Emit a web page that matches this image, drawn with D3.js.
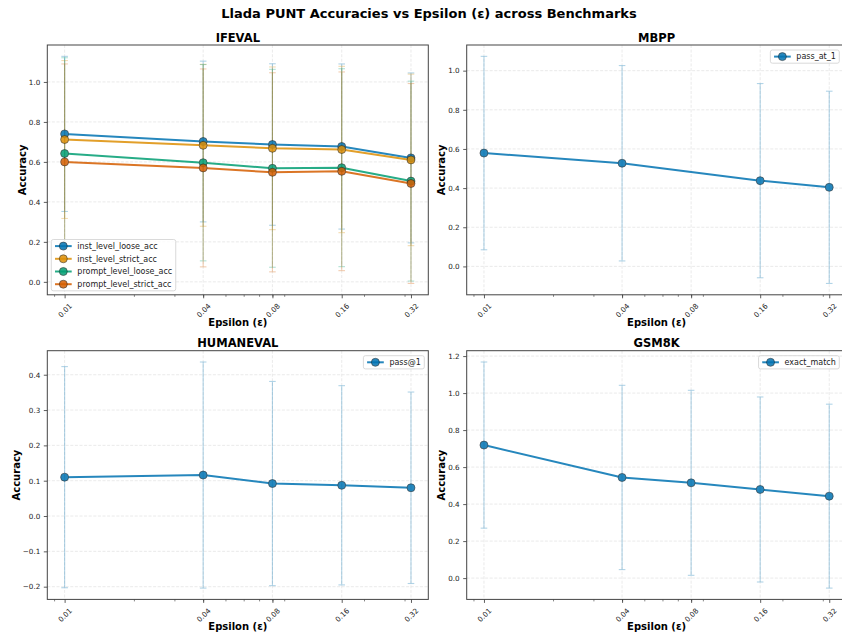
<!DOCTYPE html>
<html>
<head>
<meta charset="utf-8">
<script src="https://cdn.jsdelivr.net/npm/d3@7"></script>
<style>
  body { margin: 0; background: #fff; }
  svg { display: block; }
  text { font-family: "DejaVu Sans", "Liberation Sans", sans-serif; }
</style>
</head>
<body>
<svg id="chart" width="842" height="639"></svg>
<script>
// ---- data -------------------------------------------------------------
const epsilons = [0.01, 0.04, 0.08, 0.16, 0.32];
const epsilonTickLabels = ["0.01", "0.04", "0.08", "0.16", "0.32"];

// IFEVAL (four metrics, mean ± std)
const ifevalInstLooseAcc   = [0.740, 0.702, 0.687, 0.677, 0.620];
const ifevalInstLooseErr   = [0.388, 0.402, 0.404, 0.413, 0.425];
const ifevalInstStrictAcc  = [0.712, 0.683, 0.668, 0.662, 0.610];
const ifevalInstStrictErr  = [0.395, 0.405, 0.407, 0.416, 0.429];
const ifevalPromptLooseAcc = [0.642, 0.596, 0.568, 0.571, 0.504];
const ifevalPromptLooseErr = [0.479, 0.491, 0.495, 0.495, 0.500];
const ifevalPromptStrictAcc = [0.600, 0.570, 0.548, 0.553, 0.492];
const ifevalPromptStrictErr = [0.490, 0.495, 0.498, 0.497, 0.500];

// MBPP (no run at 0.08)
const mbppEpsilons = [0.01, 0.04, 0.16, 0.32];
const mbppPassAt1  = [0.579, 0.527, 0.438, 0.404];
const mbppErr      = [0.494, 0.499, 0.496, 0.491];

// HUMANEVAL
const humanevalPass1 = [0.110, 0.116, 0.092, 0.087, 0.080];
const humanevalErr   = [0.313, 0.320, 0.289, 0.282, 0.271];

// GSM8K
const gsm8kExactMatch = [0.719, 0.544, 0.515, 0.479, 0.443];
const gsm8kErr        = [0.449, 0.498, 0.500, 0.500, 0.497];

// y tick values per panel
const ifevalYTicks    = [0.0, 0.2, 0.4, 0.6, 0.8, 1.0];
const mbppYTicks      = [0.0, 0.2, 0.4, 0.6, 0.8, 1.0];
const humanevalYTicks = [-0.2, -0.1, 0.0, 0.1, 0.2, 0.3, 0.4];
const gsm8kYTicks     = [0.0, 0.2, 0.4, 0.6, 0.8, 1.0, 1.2];

// ---- style ------------------------------------------------------------
const palette = ["#0173b2", "#de8f05", "#029e73", "#d55e00"];
const TICK_FS = 7.2, LEGEND_FS = 8, LABEL_FS = 10, TITLE_FS = 11.5, SUPTITLE_FS = 13;

const panels = [
  { title: "IFEVAL", box: [47.3, 428.3, 45, 294.8], yTicks: ifevalYTicks, legendLoc: "lower left",
    series: [
      { name: "inst_level_loose_acc",   color: palette[0], x: epsilons, y: ifevalInstLooseAcc,   e: ifevalInstLooseErr },
      { name: "inst_level_strict_acc",  color: palette[1], x: epsilons, y: ifevalInstStrictAcc,  e: ifevalInstStrictErr },
      { name: "prompt_level_loose_acc", color: palette[2], x: epsilons, y: ifevalPromptLooseAcc, e: ifevalPromptLooseErr },
      { name: "prompt_level_strict_acc",color: palette[3], x: epsilons, y: ifevalPromptStrictAcc,e: ifevalPromptStrictErr }
    ] },
  { title: "MBPP", box: [466.7, 846.5, 45, 294.8], yTicks: mbppYTicks, legendLoc: "upper right",
    series: [ { name: "pass_at_1", color: palette[0], x: mbppEpsilons, y: mbppPassAt1, e: mbppErr } ] },
  { title: "HUMANEVAL", box: [47.3, 428.3, 350.7, 599.4], yTicks: humanevalYTicks, legendLoc: "upper right",
    series: [ { name: "pass@1", color: palette[0], x: epsilons, y: humanevalPass1, e: humanevalErr } ] },
  { title: "GSM8K", box: [466.7, 846.5, 350.7, 599.4], yTicks: gsm8kYTicks, legendLoc: "upper right",
    series: [ { name: "exact_match", color: palette[0], x: epsilons, y: gsm8kExactMatch, e: gsm8kErr } ] }
];

const svg = d3.select("#chart");
const fmt = d3.format(".1f");

svg.append("text")
  .attr("x", 429).attr("y", 17.5)
  .attr("text-anchor", "middle")
  .attr("font-size", SUPTITLE_FS).attr("font-weight", "bold")
  .attr("fill", "#000")
  .text("Llada PUNT Accuracies vs Epsilon (ε) across Benchmarks");

panels.forEach((p, pi) => {
  const [L, R, T, B] = p.box;
  const g = svg.append("g");

  // log x scale with 5% margins in log space
  const lo = Math.log10(d3.min(epsilons)), hi = Math.log10(d3.max(epsilons));
  const mx = (hi - lo) * 0.05;
  const x = d3.scaleLog().domain([10 ** (lo - mx), 10 ** (hi + mx)]).range([L, R]);

  // linear y scale with 5% margins around the error-bar extent
  const yMin = d3.min(p.series, s => d3.min(s.y, (v, i) => v - s.e[i]));
  const yMax = d3.max(p.series, s => d3.max(s.y, (v, i) => v + s.e[i]));
  const my = (yMax - yMin) * 0.05;
  const y = d3.scaleLinear().domain([yMin - my, yMax + my]).range([B, T]);

  const clipId = "clip" + pi;
  svg.append("clipPath").attr("id", clipId)
    .append("rect").attr("x", L).attr("y", T).attr("width", R - L).attr("height", B - T);

  // grid
  const grid = g.append("g").attr("stroke", "#c8c8c8").attr("stroke-width", 0.8)
    .attr("stroke-dasharray", "3,1.6").attr("opacity", 0.45);
  grid.selectAll("line.h").data(p.yTicks).join("line")
    .attr("x1", L).attr("x2", R).attr("y1", d => y(d)).attr("y2", d => y(d));
  grid.selectAll("line.v").data(epsilons).join("line")
    .attr("y1", T).attr("y2", B).attr("x1", d => x(d)).attr("x2", d => x(d));

  // y axis
  const yAxis = g.append("g").attr("transform", `translate(${L},0)`)
    .call(d3.axisLeft(y).tickValues(p.yTicks).tickFormat(fmt).tickSize(3.5).tickPadding(3.5));
  yAxis.select(".domain").remove();
  yAxis.selectAll("line").attr("stroke", "#333").attr("stroke-width", 0.8);
  yAxis.selectAll("text").attr("font-size", TICK_FS).attr("fill", "#222")
    .attr("font-family", "DejaVu Sans");
  let maxW = 0;
  yAxis.selectAll("text").each(function () { maxW = Math.max(maxW, this.getComputedTextLength()); });

  // x axis: minor log ticks
  const [d0, d1] = x.domain();
  const minor = [];
  for (let k = -3; k <= 0; k++) for (let m = 2; m <= 9; m++) {
    const v = m * 10 ** k;
    if (v >= d0 && v <= d1) minor.push(v);
  }
  const xMinor = g.append("g").attr("transform", `translate(0,${B})`)
    .call(d3.axisBottom(x).tickValues(minor).tickFormat("").tickSize(2));
  xMinor.select(".domain").remove();
  xMinor.selectAll("line").attr("stroke", "#333").attr("stroke-width", 0.6);

  // x axis: major ticks at the epsilon values, labels rotated 45°
  const xAxis = g.append("g").attr("transform", `translate(0,${B})`)
    .call(d3.axisBottom(x).tickValues(epsilons)
      .tickFormat((d, i) => epsilonTickLabels[i]).tickSize(3.5));
  xAxis.select(".domain").remove();
  xAxis.selectAll("line").attr("stroke", "#333").attr("stroke-width", 0.8);
  xAxis.selectAll("text")
    .attr("font-size", TICK_FS).attr("fill", "#222").attr("font-family", "DejaVu Sans")
    .attr("text-anchor", "middle").attr("y", 0).attr("dy", "0.35em")
    .attr("transform", function () {
      const w = this.getComputedTextLength();
      const h = (w + TICK_FS * 1.17) * Math.SQRT1_2;
      return `translate(0,${7 + h / 2}) rotate(-45)`;
    });

  // error bars
  const eb = g.append("g").attr("clip-path", `url(#${clipId})`);
  p.series.forEach(s => {
    const pts = s.x.map((xv, i) => ({ x: xv, y: s.y[i], e: s.e[i] }));
    const sg = eb.append("g").attr("stroke", s.color).attr("stroke-width", 1.1).attr("opacity", 0.3);
    sg.selectAll("line.bar").data(pts).join("line")
      .attr("x1", d => x(d.x)).attr("x2", d => x(d.x))
      .attr("y1", d => y(d.y - d.e)).attr("y2", d => y(d.y + d.e));
    sg.selectAll("line.capTop").data(pts).join("line")
      .attr("x1", d => x(d.x) - 3.3).attr("x2", d => x(d.x) + 3.3)
      .attr("y1", d => y(d.y + d.e)).attr("y2", d => y(d.y + d.e));
    sg.selectAll("line.capBot").data(pts).join("line")
      .attr("x1", d => x(d.x) - 3.3).attr("x2", d => x(d.x) + 3.3)
      .attr("y1", d => y(d.y - d.e)).attr("y2", d => y(d.y - d.e));
  });

  // lines + markers
  const lineGen = d3.line().x(d => x(d.x)).y(d => y(d.y));
  const lg = g.append("g").attr("clip-path", `url(#${clipId})`);
  p.series.forEach(s => {
    const pts = s.x.map((xv, i) => ({ x: xv, y: s.y[i] }));
    const sg = lg.append("g").attr("opacity", 0.85);
    sg.append("path").datum(pts).attr("d", lineGen)
      .attr("fill", "none").attr("stroke", s.color).attr("stroke-width", 2)
      .attr("stroke-linejoin", "round");
    sg.selectAll("circle").data(pts).join("circle")
      .attr("cx", d => x(d.x)).attr("cy", d => y(d.y)).attr("r", 4)
      .attr("fill", s.color).attr("stroke", "#1a1a1a").attr("stroke-width", 0.6);
  });

  // spines
  g.append("rect").attr("x", L).attr("y", T).attr("width", R - L).attr("height", B - T)
    .attr("fill", "none").attr("stroke", "#444").attr("stroke-width", 1);

  // titles and labels
  g.append("text").attr("x", (L + R) / 2).attr("y", T - 3.5)
    .attr("text-anchor", "middle").attr("font-size", TITLE_FS).attr("font-weight", "bold")
    .text(p.title);
  g.append("text").attr("transform", `translate(${L - 7 - maxW - 3.2},${(T + B) / 2}) rotate(-90)`)
    .attr("text-anchor", "middle").attr("font-size", LABEL_FS).attr("font-weight", "bold")
    .text("Accuracy");
  g.append("text").attr("x", (L + R) / 2).attr("y", B + 31)
    .attr("text-anchor", "middle").attr("font-size", LABEL_FS).attr("font-weight", "bold")
    .text("Epsilon (ε)");

  // legend
  const rowH = 12.7, padY = 6.6, textX = 26;
  const leg = g.append("g");
  const frame = leg.append("rect");
  const items = leg.selectAll("g.item").data(p.series).join("g")
    .attr("transform", (d, i) => `translate(0,${padY + i * rowH})`);
  items.append("line").attr("x1", 3.7).attr("x2", 20.4).attr("y1", 0).attr("y2", 0)
    .attr("stroke", d => d.color).attr("stroke-width", 2).attr("opacity", 0.85);
  items.append("circle").attr("cx", 12).attr("cy", 0).attr("r", 4)
    .attr("fill", d => d.color).attr("stroke", "#1a1a1a").attr("stroke-width", 0.6).attr("opacity", 0.85);
  items.append("text").attr("x", textX).attr("y", 0).attr("dy", "0.35em")
    .attr("font-size", LEGEND_FS).attr("fill", "#222").text(d => d.name);
  let tw = 0;
  items.selectAll("text").each(function () { tw = Math.max(tw, this.getComputedTextLength()); });
  const lw = textX + tw + 3.5;
  const lh = padY * 2 + (p.series.length - 1) * rowH;
  frame.attr("x", 0).attr("y", 0).attr("width", lw).attr("height", lh).attr("rx", 2)
    .attr("fill", "#fff").attr("fill-opacity", 0.8).attr("stroke", "#d0d0d0").attr("stroke-width", 0.8);
  let lx, ly;
  if (p.legendLoc === "lower left") { lx = L + 4; ly = B - 4 - lh; }
  else { lx = Math.min(R, 843.3) - 4 - lw; ly = T + 5; }
  leg.attr("transform", `translate(${lx},${ly})`);
});
</script>
</body>
</html>
